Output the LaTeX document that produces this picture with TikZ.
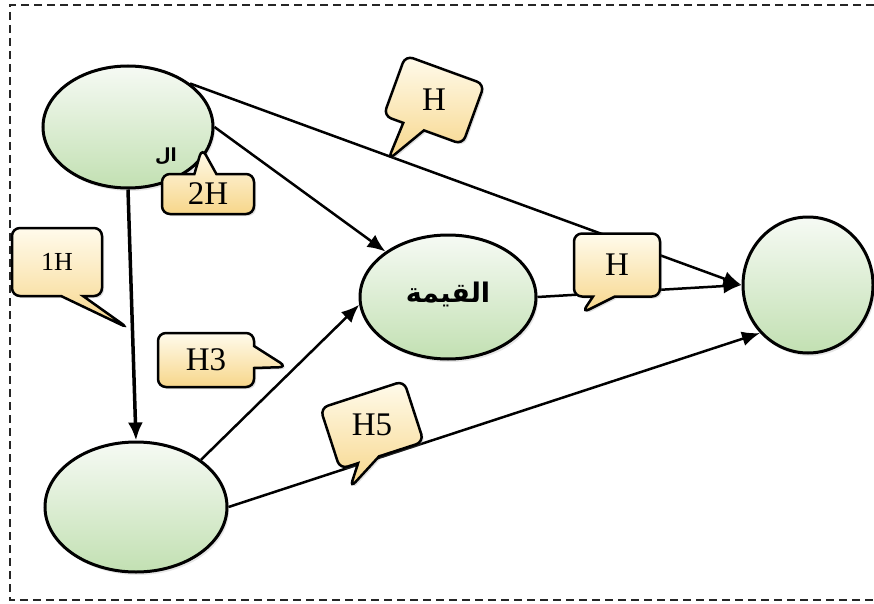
\documentclass[tikz,border=0pt]{standalone}
\usepackage{fontspec}
\setmainfont{Liberation Serif}
\newfontfamily\arabicfont[Script=Arabic]{DejaVu Sans}
\TeXXeTstate=1
\usepackage{xcolor}
\usetikzlibrary{arrows.meta, shapes.geometric, shapes.callouts, shadows}
\definecolor{ovaltop}{RGB}{246,250,244}
\definecolor{ovalbot}{RGB}{194,224,178}
\definecolor{bubtop}{RGB}{255,251,236}
\definecolor{bubbot}{RGB}{247,214,138}
\newcommand{\tilted}[2]{\rotatebox{#1}{#2}}

\begin{document}
\begin{tikzpicture}[
  x=1pt, y=-1pt,
  oval/.style   = {ellipse, draw=black, line width=3pt, inner sep=0pt, top color=ovaltop, bottom color=ovalbot,
                   drop shadow={opacity=0.2, shadow xshift=2pt, shadow yshift=-3pt}},
  bubble/.style = {rectangle callout, draw=black, line width=2.5pt, rounded corners=8pt, inner sep=2pt,
                   top color=bubtop, bottom color=bubbot, callout pointer width=22pt,
                   font=\fontsize{33}{36}\selectfont,
                   drop shadow={opacity=0.25, shadow xshift=2pt, shadow yshift=-2pt}},
  arrow/.style  = {-{Latex[length=18pt, width=15pt]}, line width=2.5pt},
  frame/.style  = {draw=black!85, line width=2pt, dash pattern=on 8pt off 5pt}
]
\useasboundingbox (0,0) rectangle (874,604);
\draw[frame] (874,5) -- (10,5) -- (10,600) -- (874,600);

%% ovals
\node[oval, minimum width=170pt, minimum height=122pt] (src) at (128,127) {};
\node[oval, minimum width=182pt, minimum height=130pt] (low) at (136,507) {};
\node[oval, minimum width=176pt, minimum height=124pt] (val) at (448,297)
  {\raisebox{10pt}{\arabicfont\bfseries\fontsize{27}{30}\selectfont\beginR القيمة\endR}};
\node[oval, minimum width=130pt, minimum height=136pt] (res) at (808,285) {};
\node[font=\arabicfont\bfseries\fontsize{18}{20}\selectfont] (frag) at (166,156) {\beginR ال\endR};

%% arrows
\draw[arrow] (src.35) -- (res.west);
\draw[arrow] (src.east) -- (val.144);
\draw[arrow, line width=3.5pt] (src.south) -- (low.north);
\draw[arrow] (low.36) -- (val.185);
\draw[arrow] (val.east) -- (res.west);
\draw[arrow] (low.east) -- (res.225);

%% hypothesis labels
\node[bubble, minimum width=84pt, minimum height=64pt, rotate=-20, callout absolute pointer={(388,160)}] (hA) at (434,100) {\tilted{20}{H}};
\node[bubble, minimum width=92pt, minimum height=40pt, callout absolute pointer={(202,148)}] (hB) at (208,194) {2H};
\node[bubble, minimum width=90pt, minimum height=68pt, font=\fontsize{26}{30}\selectfont, callout absolute pointer={(128,328)}] (hC) at (57,262) {1H};
\node[bubble, minimum width=96pt, minimum height=54pt, callout absolute pointer={(287,367)}] (hD) at (206,360) {H3};
\node[bubble, minimum width=86pt, minimum height=63pt, callout absolute pointer={(582,313)}] (hE) at (617,265) {H};
\node[bubble, minimum width=88pt, minimum height=64pt, rotate=18, callout absolute pointer={(350,488)}] (hF) at (372,425) {\tilted{-18}{H5}};
\end{tikzpicture}
\end{document}
